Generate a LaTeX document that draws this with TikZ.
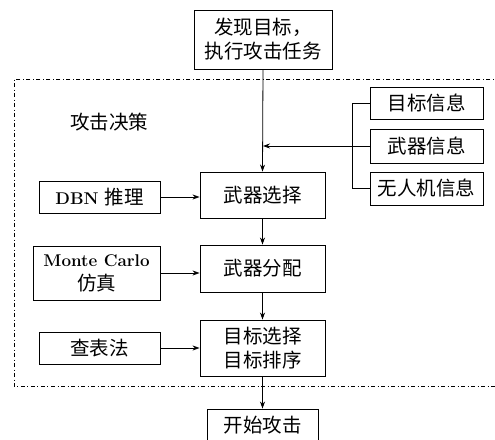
\documentclass[tikz,border=0pt]{standalone}
\usepackage{fontspec}
\newfontfamily\cjk{Noto Sans CJK SC}
\usetikzlibrary{arrows.meta}
\newcommand{\latn}{\fontsize{17}{24}\selectfont\bfseries}
\begin{document}
\begin{tikzpicture}[x=1pt,y=-1pt,
  box/.style={draw,line width=0.9pt,rectangle,inner sep=0pt,align=center,font=\fontsize{19.5}{24}\selectfont},
  arr/.style={line width=0.8pt,-{Stealth[length=7pt,width=5pt]}},
  ln/.style={line width=0.8pt}]
\useasboundingbox (0,0) rectangle (495,439);
\draw[line width=0.8pt,dash pattern=on 4pt off 2.5pt on 1pt off 2.5pt] (520,79) -- (14,79) -- (14,386) -- (520,386);
\node[font=\fontsize{19.5}{24}\selectfont] (lbl) at (109,122) {\cjk 攻击决策};
\node[box,minimum width=138pt,minimum height=59pt] (top) at (263,39.5) {\cjk 发现目标，\\\cjk 执行攻击任务};
\node[box,minimum width=125pt,minimum height=46pt] (w1) at (262.5,195) {\cjk 武器选择};
\node[box,minimum width=125pt,minimum height=47pt] (w2) at (262.5,268.5) {\cjk 武器分配};
\node[box,minimum width=125pt,minimum height=56pt] (w3) at (262.5,348) {\cjk 目标选择\\\cjk 目标排序};
\node[box,minimum width=111pt,minimum height=32pt] (st) at (262.5,425) {\cjk 开始攻击};
\node[box,minimum width=121pt,minimum height=32pt] (dbn) at (99.5,197) {{\latn DBN} {\cjk 推理}};
\node[box,minimum width=127pt,minimum height=54pt] (mc) at (96.5,273) {{\latn Monte Carlo}\\\cjk 仿真};
\node[box,minimum width=121pt,minimum height=32pt] (cb) at (99.5,348) {\cjk 查表法};
\node[box,minimum width=113pt,minimum height=32pt] (i1) at (426.5,103) {\cjk 目标信息};
\node[box,minimum width=113pt,minimum height=34pt] (i2) at (426.5,146) {\cjk 武器信息};
\node[box,minimum width=113pt,minimum height=33pt] (i3) at (426.5,188.5) {\cjk 无人机信息};
\draw[arr] (top.south) -- (w1.north);
\draw[arr] (w1.south) -- (w2.north);
\draw[arr] (w2.south) -- (w3.north);
\draw[arr] (w3.south) -- (st.north);
\draw[arr] (dbn.east) -- (dbn.east -| w1.west);
\draw[arr] (mc.east) -- (mc.east -| w2.west);
\draw[arr] (cb.east) -- (cb.east -| w3.west);
\coordinate (br) at (352,0);
\draw[ln] (i1.west) -- (i1.west -| br) -- (i3.west -| br) -- (i3.west);
\draw[arr] (i2.west) -- (i2.west -| top.south);
\end{tikzpicture}
\end{document}
